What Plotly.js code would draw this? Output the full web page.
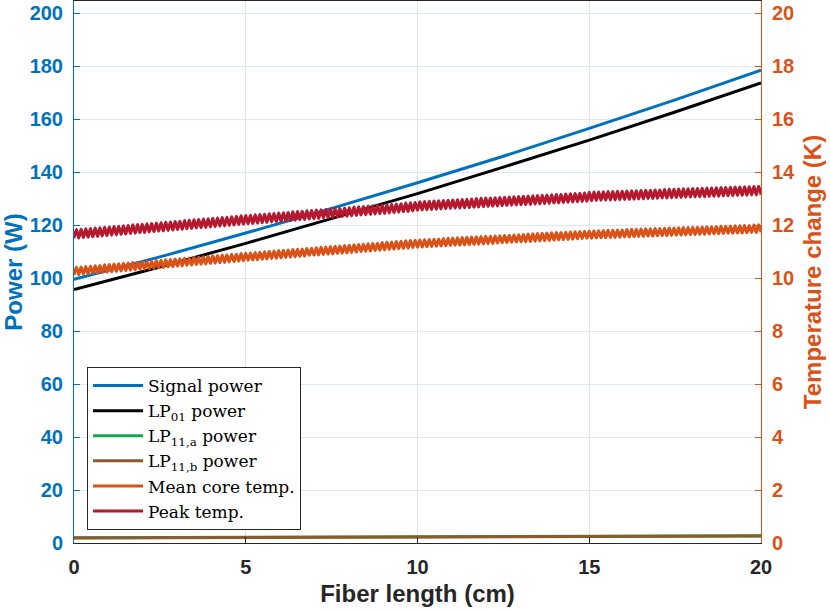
<!DOCTYPE html>
<html>
<head>
<meta charset="utf-8">
<script src="https://cdn.plot.ly/plotly-3.0.1.min.js"></script>
<style>
  html, body { margin: 0; padding: 0; background: white; }
  #chart { width: 830px; height: 612px; }
</style>
</head>
<body>
<div id="chart"></div>
<script>
// power curves, read at every 2.5 cm along the fiber
const lengthCm = [0, 2.5, 5, 7.5, 10, 12.5, 15, 17.5, 20];
const signalPower = [99.5, 108.0, 117.0, 126.3, 136.0, 146.0, 156.5, 167.3, 178.5];
const lp01Power = [95.7, 104.2, 113.1, 122.4, 131.9, 141.9, 152.1, 162.7, 173.7];
const lp11aPower = [2.0, 2.1, 2.2, 2.3, 2.4, 2.5, 2.55, 2.65, 2.7];
const lp11bPower = [1.9, 2.0, 2.1, 2.2, 2.3, 2.35, 2.45, 2.5, 2.6];

// temperature curves: peaks and troughs of the ripple, 293 samples over 0..20 cm
const tempStart = 0;
const tempStep = 20 / 292;
const meanCoreTemp = [
  10.12,10.41,10.13,10.42,10.15,10.44,10.16,10.45,10.18,10.47,
  10.19,10.48,10.21,10.50,10.22,10.51,10.24,10.53,10.25,10.54,
  10.27,10.56,10.28,10.57,10.30,10.59,10.31,10.60,10.33,10.61,
  10.34,10.63,10.36,10.64,10.37,10.66,10.39,10.67,10.40,10.69,
  10.42,10.70,10.43,10.72,10.45,10.73,10.46,10.75,10.48,10.76,
  10.49,10.78,10.51,10.79,10.52,10.81,10.53,10.82,10.55,10.84,
  10.56,10.85,10.58,10.87,10.59,10.88,10.61,10.90,10.62,10.91,
  10.64,10.93,10.65,10.94,10.67,10.95,10.68,10.97,10.69,10.98,
  10.71,10.99,10.72,11.01,10.74,11.02,10.75,11.04,10.76,11.05,
  10.78,11.06,10.79,11.08,10.80,11.09,10.82,11.10,10.83,11.12,
  10.85,11.13,10.86,11.15,10.87,11.16,10.89,11.17,10.90,11.19,
  10.91,11.20,10.93,11.21,10.94,11.23,10.95,11.24,10.97,11.26,
  10.98,11.27,11.00,11.28,11.01,11.30,11.02,11.31,11.04,11.32,
  11.05,11.34,11.06,11.35,11.08,11.36,11.09,11.38,11.11,11.39,
  11.12,11.41,11.13,11.42,11.15,11.43,11.16,11.44,11.17,11.45,
  11.18,11.46,11.19,11.47,11.20,11.48,11.21,11.49,11.22,11.50,
  11.23,11.51,11.24,11.52,11.24,11.53,11.25,11.54,11.26,11.55,
  11.27,11.56,11.28,11.57,11.29,11.58,11.30,11.58,11.31,11.59,
  11.32,11.60,11.33,11.61,11.34,11.62,11.35,11.63,11.36,11.64,
  11.37,11.65,11.37,11.66,11.38,11.67,11.39,11.68,11.40,11.69,
  11.41,11.70,11.42,11.71,11.43,11.72,11.44,11.72,11.45,11.73,
  11.46,11.74,11.47,11.75,11.48,11.76,11.49,11.77,11.50,11.78,
  11.50,11.79,11.51,11.79,11.52,11.80,11.52,11.81,11.53,11.81,
  11.53,11.82,11.54,11.82,11.55,11.83,11.55,11.84,11.56,11.84,
  11.57,11.85,11.57,11.86,11.58,11.86,11.58,11.87,11.59,11.87,
  11.60,11.88,11.60,11.89,11.61,11.89,11.62,11.90,11.62,11.91,
  11.63,11.91,11.64,11.92,11.64,11.92,11.65,11.93,11.65,11.94,
  11.66,11.94,11.67,11.95,11.67,11.96,11.68,11.96,11.69,11.97,
  11.69,11.98,11.70,11.98,11.70,11.99,11.71,11.99,11.72,12.00,
  11.72,12.01,11.73
];
const peakTemp = [
  11.50,11.83,11.51,11.84,11.53,11.86,11.54,11.87,11.56,11.89,
  11.57,11.90,11.59,11.92,11.60,11.93,11.62,11.95,11.63,11.96,
  11.65,11.98,11.66,11.99,11.68,12.01,11.69,12.02,11.71,12.03,
  11.72,12.05,11.74,12.06,11.75,12.08,11.77,12.09,11.78,12.11,
  11.80,12.12,11.81,12.14,11.83,12.15,11.84,12.17,11.86,12.18,
  11.87,12.20,11.89,12.21,11.90,12.23,11.91,12.24,11.93,12.26,
  11.94,12.27,11.96,12.29,11.97,12.30,11.99,12.32,12.00,12.33,
  12.02,12.35,12.03,12.36,12.05,12.37,12.06,12.39,12.07,12.40,
  12.09,12.41,12.10,12.43,12.12,12.44,12.13,12.46,12.14,12.47,
  12.16,12.48,12.17,12.50,12.18,12.51,12.20,12.52,12.21,12.54,
  12.23,12.55,12.24,12.57,12.25,12.58,12.27,12.59,12.28,12.61,
  12.29,12.62,12.31,12.63,12.32,12.65,12.33,12.66,12.35,12.68,
  12.36,12.69,12.38,12.70,12.39,12.72,12.40,12.73,12.42,12.74,
  12.43,12.76,12.44,12.77,12.46,12.78,12.47,12.80,12.49,12.81,
  12.50,12.83,12.51,12.84,12.53,12.85,12.56,12.88,12.57,12.89,
  12.58,12.90,12.59,12.91,12.60,12.92,12.61,12.93,12.62,12.94,
  12.63,12.95,12.64,12.96,12.64,12.97,12.65,12.98,12.66,12.99,
  12.67,13.00,12.68,13.01,12.69,13.02,12.70,13.02,12.71,13.03,
  12.72,13.04,12.73,13.05,12.74,13.06,12.75,13.07,12.76,13.08,
  12.77,13.09,12.77,13.10,12.78,13.11,12.79,13.12,12.80,13.13,
  12.81,13.14,12.82,13.15,12.83,13.16,12.84,13.16,12.85,13.17,
  12.86,13.18,12.87,13.19,12.88,13.20,12.89,13.21,12.90,13.24,
  12.92,13.25,12.93,13.25,12.94,13.26,12.94,13.27,12.95,13.27,
  12.95,13.28,12.96,13.28,12.97,13.29,12.97,13.30,12.98,13.30,
  12.99,13.31,12.99,13.32,13.00,13.32,13.00,13.33,13.01,13.33,
  13.02,13.34,13.02,13.35,13.03,13.35,13.04,13.36,13.04,13.37,
  13.05,13.37,13.06,13.38,13.06,13.38,13.07,13.39,13.07,13.40,
  13.08,13.40,13.09,13.41,13.09,13.42,13.10,13.42,13.11,13.43,
  13.11,13.44,13.12,13.44,13.12,13.45,13.13,13.45,13.14,13.46,
  13.14,13.47,13.15
];

const seriesNames = ['Signal power', 'LP<sub>01</sub> power', 'LP<sub>11,a</sub> power',
  'LP<sub>11,b</sub> power', 'Mean core temp.', 'Peak temp.'];

const BLUE = '#0072BD';
const ORANGE = '#D95319';
const DARK = '#262626';
const sans = 'Liberation Sans, Arial, Helvetica, sans-serif';

function powerTrace(name, ys, color) {
  return {
    x: lengthCm, y: ys, name: name, mode: 'lines', yaxis: 'y',
    line: { color: color, width: 3 }
  };
}

function tempTrace(name, ys, color) {
  return {
    x0: tempStart, dx: tempStep, y: ys, name: name, mode: 'lines', yaxis: 'y2',
    line: { color: color, width: 3, shape: 'spline', smoothing: 1 }
  };
}

const traces = [
  powerTrace(seriesNames[0], signalPower, BLUE),
  powerTrace(seriesNames[1], lp01Power, '#000000'),
  powerTrace(seriesNames[2], lp11aPower, '#12A650'),
  powerTrace(seriesNames[3], lp11bPower, '#8C5A2B'),
  tempTrace(seriesNames[4], meanCoreTemp, ORANGE),
  tempTrace(seriesNames[5], peakTemp, '#B5192F')
];

const layout = {
  width: 830,
  height: 612,
  margin: { l: 74, r: 69, t: 1, b: 69 },
  paper_bgcolor: 'white',
  plot_bgcolor: 'white',
  showlegend: true,
  legend: {
    x: 0.019, y: 0.024, xanchor: 'left', yanchor: 'bottom',
    bgcolor: 'white', bordercolor: DARK, borderwidth: 1,
    font: { family: 'DejaVu Serif, Liberation Serif, serif', size: 17, color: '#000' },
    itemwidth: 50,
    tracegroupgap: 0
  },
  xaxis: {
    range: [0, 20], dtick: 5, tick0: 0,
    showline: true, linecolor: DARK, linewidth: 1, mirror: true,
    ticks: 'inside', ticklen: 6, tickcolor: DARK,
    showgrid: true, gridcolor: '#dfe3e8', zeroline: false,
    tickfont: { family: sans, size: 20, color: DARK, weight: 'bold' },
    ticklabelstandoff: 6,
    title: { text: 'Fiber length (cm)', standoff: 8,
      font: { family: sans, size: 24, color: DARK, weight: 'bold' } }
  },
  yaxis: {
    range: [0, 204.6], dtick: 20, tick0: 0,
    showline: true, linecolor: BLUE, linewidth: 1,
    ticks: 'inside', ticklen: 6, tickcolor: BLUE,
    showgrid: true, gridcolor: '#dce8f2', zeroline: false,
    tickfont: { family: sans, size: 20, color: BLUE, weight: 'bold' },
    ticklabelstandoff: 6,
    title: { text: 'Power (W)', standoff: 10,
      font: { family: sans, size: 24, color: BLUE, weight: 'bold' } }
  },
  yaxis2: {
    overlaying: 'y', side: 'right',
    range: [0, 20.46], dtick: 2, tick0: 0,
    showline: true, linecolor: ORANGE, linewidth: 1,
    ticks: 'inside', ticklen: 6, tickcolor: ORANGE,
    showgrid: false, zeroline: false,
    tickfont: { family: sans, size: 20, color: ORANGE, weight: 'bold' },
    ticklabelstandoff: 6,
    title: { text: 'Temperature change (K)', standoff: 10,
      font: { family: sans, size: 24, color: ORANGE, weight: 'bold' } }
  }
};

Plotly.newPlot('chart', traces, layout, { displayModeBar: false, staticPlot: true });
</script>
</body>
</html>
